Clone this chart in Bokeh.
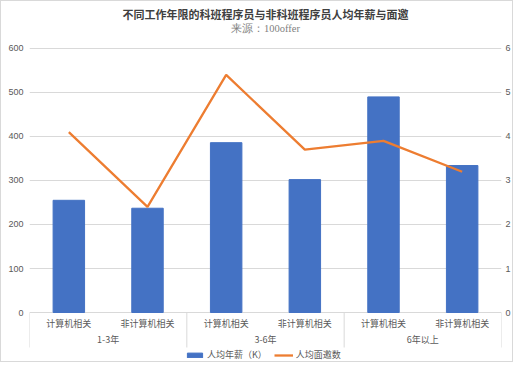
from bokeh.plotting import figure
from bokeh.models import (FactorRange, Range1d, LinearAxis, FixedTicker, Legend, LegendItem, ColumnDataSource)
from bokeh.core.properties import value
from bokeh.embed import file_html
from bokeh.resources import INLINE

title = "不同工作年限的科班程序员与非科班程序员人均年薪与面邀"
subtitle = "来源：100offer"
groups = ["1-3年", "3-6年", "6年以上"]
subs = ["计算机相关", "非计算机相关"]
salary = [255, 237, 386, 302, 490, 334]
offers = [4.1, 2.4, 5.4, 3.7, 3.9, 3.2]
left_ticks = [0, 100, 200, 300, 400, 500, 600]
right_ticks = [0, 1, 2, 3, 4, 5, 6]

factors = [(g, s) for g in groups for s in subs]
src = ColumnDataSource(dict(x=factors, salary=salary, offers=offers, sub=[f[1] for f in factors]))

TXT = "#595959"
GRID = "#D9D9D9"
CJK = "Noto Sans CJK SC"

# the plotting frame spans the whole canvas height; titles, category rows and
# legend are placed above / below the 0..600 value band
YMAX = 706.8
YMIN = -115.9
p = figure(width=513, height=362, output_backend="svg", toolbar_location=None,
           x_range=FactorRange(*factors, group_padding=0, range_padding=0, factor_padding=0),
           y_range=Range1d(YMIN, YMAX),
           min_border_left=28, min_border_right=13, min_border_top=0, min_border_bottom=0)
p.extra_y_ranges = {"right": Range1d(YMIN / 100, YMAX / 100)}
p.outline_line_color = None
p.styles = {"border": "1px solid #D9D9D9"}
p.xgrid.grid_line_color = None
p.ygrid.ticker = FixedTicker(ticks=left_ticks)
p.ygrid.grid_line_color = GRID
p.below = []

bars = p.vbar(x="x", top="salary", width=0.4, source=src, color="#4472C4")
line = p.line(x="x", y="offers", source=src, y_range_name="right", color="#ED7D31", line_width=2.3)

n = len(factors)
per = len(subs)

# titles
p.text(x=[n / 2], y=[677.3], text=[title], text_font=value(CJK), text_font_size="11px",
       text_font_style="bold", text_color="#404040", text_align="center", text_baseline="middle")
p.text(x=[n / 2], y=[645.5], text=[subtitle], text_font=value("Liberation Serif"),
       text_font_size="10.5px", text_color="#7F7F7F", text_align="center", text_baseline="middle")

# category axis rows
edges = [i * per for i in range(len(groups) + 1)]
p.segment(x0=edges, y0=[0] * len(edges), x1=edges, y1=[-79.5] * len(edges),
          line_color=GRID, line_width=1)
p.text(x="x", y=-25, text="sub", source=src, text_font=value(CJK), text_font_size="9px",
       text_color=TXT, text_align="center", text_baseline="middle")
p.text(x=[i * per + per / 2 for i in range(len(groups))], y=[-61.4] * len(groups), text=groups,
       text_font=value(CJK), text_font_size="9px", text_color=TXT,
       text_align="center", text_baseline="middle")

def style_axis(a, standoff):
    a.axis_line_color = None
    a.major_tick_line_color = None
    a.minor_tick_line_color = None
    a.major_tick_out = 0
    a.major_tick_in = 0
    a.minor_tick_out = 0
    a.major_label_text_font = "Liberation Sans"
    a.major_label_text_font_size = "9px"
    a.major_label_text_color = TXT
    a.major_label_standoff = standoff

ya = p.yaxis[0]
ya.ticker = FixedTicker(ticks=left_ticks)
style_axis(ya, 6)

ra = LinearAxis(y_range_name="right", ticker=FixedTicker(ticks=right_ticks))
style_axis(ra, 4)
p.add_layout(ra, "right")

legend = Legend(items=[LegendItem(label="人均年薪（K）", renderers=[bars]),
                       LegendItem(label="人均面邀数", renderers=[line])],
                orientation="horizontal", location=(156, 2),
                label_text_font=CJK, label_text_font_size="9px", label_text_color=TXT,
                glyph_width=19, glyph_height=6, label_height=11, label_standoff=3, spacing=7,
                border_line_color=None, background_fill_alpha=0, padding=0, margin=0)
p.add_layout(legend, "center")

open("out.html", "w").write(file_html(p, INLINE))
